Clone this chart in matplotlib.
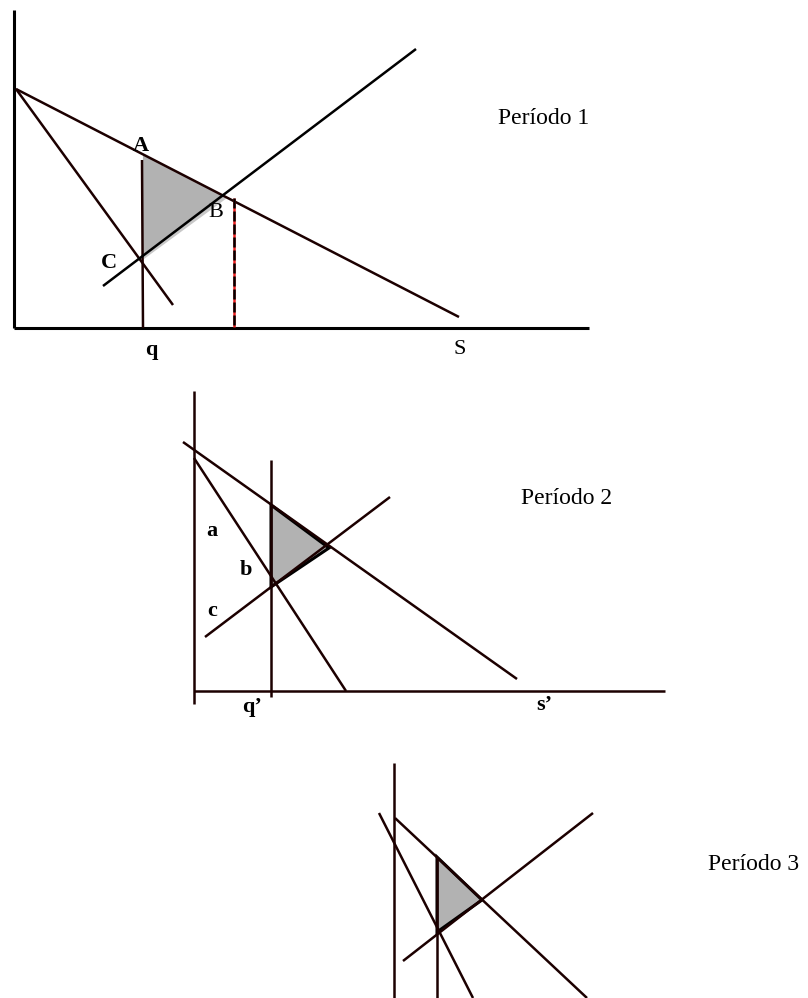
import matplotlib
matplotlib.use("Agg")
import matplotlib.pyplot as plt
from matplotlib.patches import Polygon

W, H = 808, 998
DARK = "#1c0000"

# ---- Panel 1 (coordinates in image pixels) ----
p1_axes = [((14, 10), (14, 328)), ((14, 328), (589, 328))]
p1_lines = [((16, 89), (459, 317)),      # demand
            ((16, 89), (173, 305)),      # steep
            ((142, 160), (143, 328))]    # q vertical
p1_supply = [((103, 286), (416, 49))]
p1_dash = ((234, 198), (234, 327))
p1_tri = [(143, 155), (225, 196), (142, 257)]
p1_labels = [("A", 141, 146, "bold"), ("B", 216, 212, "normal"), ("C", 109, 263, "bold"),
             ("q", 151, 350, "bold"), ("S", 460, 349, "normal")]
p1_title = ("Período 1", 544, 118)

# ---- Panel 2 ----
p2_axes = [((194, 391), (194, 704)), ((194, 691), (665, 691))]
p2_lines = [((183, 442), (517, 679)),
            ((194, 458), (346, 691)),
            ((205, 637), (390, 497)),
            ((271, 460), (271, 697))]
p2_tri = [(271, 505), (329, 548), (271, 587)]
p2_labels = [("a", 212, 531, "bold"), ("b", 246, 570, "bold"), ("c", 212, 611, "bold"),
             ("q’", 252, 707, "bold"), ("s’", 544, 705, "bold")]
p2_title = ("Período 2", 567, 498)

# ---- Panel 3 ----
p3_axes = [((394, 763), (394, 998))]
p3_lines = [((395, 818), (587, 998)),
            ((379, 813), (473, 998)),
            ((403, 961), (593, 813)),
            ((437, 857), (437, 998))]
p3_tri = [(437, 857), (482, 900), (437, 932)]
p3_title = ("Período 3", 754, 865)

fig = plt.figure(figsize=(W / 100, H / 100), dpi=100)
ax = fig.add_axes([0, 0, 1, 1])
ax.set_xlim(0, W)
ax.set_ylim(H, 0)
ax.axis("off")

LW = 1.8

def seg(s, color=DARK, lw=LW, **kw):
    (x0, y0), (x1, y1) = s
    ax.plot([x0, x1], [y0, y1], color=color, lw=lw, solid_capstyle="butt", **kw)

# panel 1
shadow = Polygon([(x + 2, y + 2) for x, y in p1_tri], closed=True, fc="#c8c8c8", ec="none", zorder=1)
ax.add_patch(shadow)
ax.add_patch(Polygon(p1_tri, closed=True, fc="#b2b2b2", ec="none", zorder=2))
for s in p1_axes:
    seg(s, color="black", lw=2.2, zorder=3)
for s in p1_lines:
    seg(s, zorder=3)
for s in p1_supply:
    seg(s, color="black", zorder=3)
seg(p1_dash, color="#ee2020", lw=LW, zorder=3)
seg(p1_dash, color="black", lw=LW, zorder=4, dashes=(4, 1.2))

# panel 2
ax.add_patch(Polygon(p2_tri, closed=True, fc="#b2b2b2", ec="black", lw=2.2, zorder=2))
for s in p2_axes:
    seg(s, zorder=3)
for s in p2_lines:
    seg(s, zorder=3)

# panel 3
ax.add_patch(Polygon(p3_tri, closed=True, fc="#b2b2b2", ec="black", lw=2.2, zorder=2))
for s in p3_axes:
    seg(s, zorder=3)
for s in p3_lines:
    seg(s, zorder=3)

for labels in (p1_labels, p2_labels):
    for txt, x, y, wt in labels:
        ax.text(x, y, txt, ha="center", va="center", fontsize=16,
                family="Liberation Serif", fontweight=wt, zorder=5)

for txt, x, y in (p1_title, p2_title, p3_title):
    ax.text(x, y, txt, ha="center", va="center", fontsize=17,
            family="Liberation Serif", zorder=5)

fig.savefig("out.png", dpi=100)
